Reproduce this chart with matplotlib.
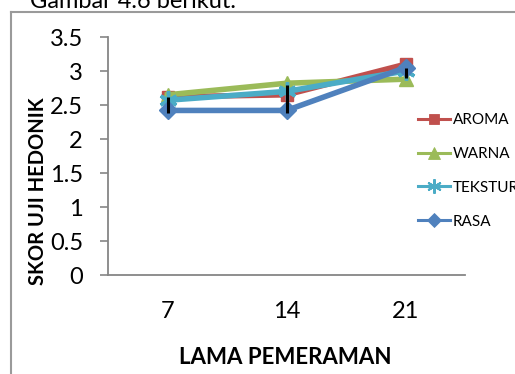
import matplotlib
matplotlib.use("Agg")
import matplotlib.pyplot as plt
from matplotlib.lines import Line2D

plt.rcParams['font.family'] = ['Lato', 'DejaVu Sans']

# data
days = ['7', '14', '21']
aroma = [2.62, 2.65, 3.1]
warna = [2.65, 2.82, 2.88]
tekstur = [2.57, 2.7, 3.0]
rasa = [2.42, 2.42, 3.05]
err_low = [2.38, 2.38, 2.9]
err_high = [2.62, 2.8, 3.04]
yticks = [0, 0.5, 1, 1.5, 2, 2.5, 3, 3.5]
ytick_labels = ['0', '0.5', '1', '1.5', '2', '2.5', '3', '3.5']

W, H = 515, 374
fig = plt.figure(figsize=(W / 100, H / 100), dpi=100)
ax = fig.add_axes([108 / W, 1 - 275 / H, 357 / W, 238 / H])

x = [i + 0.5 for i in range(len(days))]
series = [
    ('AROMA', aroma, '#C0504D', 's', 9, {}),
    ('WARNA', warna, '#9BBB59', '^', 10, {}),
    ('TEKSTUR', tekstur, '#4BACC6', (6, 2, 0), 13, {'markeredgewidth': 2.5}),
    ('RASA', rasa, '#4F81BD', 'D', 9, {}),
]
handles = []
for name, vals, col, mk, ms, extra in series:
    ax.plot(x, vals, color=col, lw=4, marker=mk, markersize=ms,
            markerfacecolor=col, markeredgecolor=col, **extra)
    handles.append(Line2D([], [], color=col, lw=2.2, marker=mk,
                          markersize=ms * 0.8, markerfacecolor=col,
                          markeredgecolor=col,
                          markeredgewidth=extra.get('markeredgewidth', 1) * 0.6))

ax.vlines(x, err_low, err_high, color='black', lw=2.2, zorder=5)

ax.set_xlim(0, 3)
ax.set_ylim(0, 3.5)
ax.set_xticks(x)
ax.set_xticklabels(days, fontsize=17)
ax.set_yticks(yticks)
ax.set_yticklabels(ytick_labels, fontsize=17)
ax.tick_params(axis='x', length=0, pad=19)
ax.tick_params(axis='y', length=6, width=1.2, color='#868686', pad=12)
for s in ['top', 'right']:
    ax.spines[s].set_visible(False)
for s in ['left', 'bottom']:
    ax.spines[s].set_color('#868686')
    ax.spines[s].set_linewidth(1.3)

fig.text(38 / W, 1 - 191 / H, 'SKOR UJI HEDONIK', rotation=90, fontsize=14.5,
         fontweight='bold', ha='center', va='center')
fig.text(285 / W, 1 - 357 / H, 'LAMA PEMERAMAN', fontsize=16,
         fontweight='bold', ha='center', va='center')

fig.legend(handles, [s[0] for s in series], loc='upper left',
           bbox_to_anchor=(412 / W, 1 - 107 / H), frameon=False,
           fontsize=11, labelspacing=1.3, handlelength=2.1,
           handletextpad=0.15, borderaxespad=0)

# surrounding chart frame and the clipped caption above it
fig.add_artist(Line2D([11 / W, 11 / W], [0, 1 - 12 / H], color='#9a9a9a',
                      lw=1.5, transform=fig.transFigure))
fig.add_artist(Line2D([11 / W, 1], [1 - 12 / H, 1 - 12 / H], color='#9a9a9a',
                      lw=1.5, transform=fig.transFigure))
fig.text(30 / W, 1 - 8 / H, 'Gambar 4.6 berikut.', fontsize=17,
         ha='left', va='baseline')

fig.savefig('out.png', dpi=100)
